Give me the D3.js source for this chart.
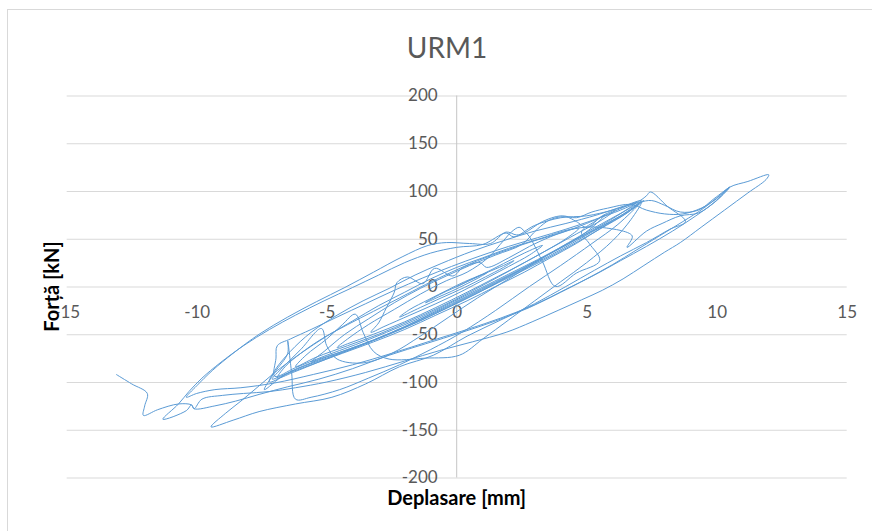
<!DOCTYPE html>
<html>
<head>
<meta charset="utf-8">
<script src="https://cdn.jsdelivr.net/npm/d3@7"></script>
<style>
  html, body { margin: 0; padding: 0; background: #fff; }
  svg { display: block; }
</style>
</head>
<body>
<div id="chart"></div>
<script>
// [displacement mm, force kN], one array per loading cycle
const cycle01 = [[0,0],[0.4,5],[0.8,10],[1.2,15],[0.9,10],[0.4,3],[-0.2,-5],[-0.7,-11],[-1.2,-17],[-0.9,-12],[-0.4,-5],[0.1,1]];
const cycle02 = [[0.6,8],[1.2,15],[1.8,22],[2.2,27],[1.8,20],[1.1,10],[0.3,-1],[-0.6,-12],[-1.4,-22],[-2.2,-32],[-1.8,-24],[-1.1,-14],[-0.3,-3],[0.3,5]];
const cycle03 = [[1,13],[1.8,24],[2.6,35],[3.3,43],[2.8,33],[2,21],[1.1,8],[0.2,-5],[-0.8,-18],[-1.8,-30],[-2.8,-42],[-3.3,-48],[-3,-38],[-2.7,-22],[-2.4,-6],[-2.3,4],[-1.9,10],[-1.3,3],[-0.85,19],[-0.15,11],[0.25,20],[0.9,25],[1.15,20]];
const cycle04 = [[2,30],[2.8,42],[3.6,52],[4.2,58],[4.7,61],[4.2,50],[3.4,37],[2.4,22],[1.4,8],[0.4,-6],[-0.8,-22],[-2,-37],[-3.2,-50],[-4.2,-60],[-4.6,-64],[-4.2,-55],[-3.4,-40],[-2.4,-24],[-1.4,-8],[-0.4,6],[0.4,15]];
const cycle05 = [[1.2,30],[1.8,48],[2.1,57],[2.4,62],[2.6,58],[2.8,52],[3.3,26],[3.8,0],[4.6,14],[5.5,27],[5.1,45],[4.8,57],[5.3,68],[5.7,75],[5.3,64],[4.5,48],[3.5,33],[2.5,18],[1.5,4],[0.4,-11],[-0.8,-27],[-2,-42],[-3.2,-56],[-4.4,-68],[-5.3,-76],[-5.6,-79],[-5.1,-68],[-4.3,-50],[-3.4,-34],[-2.4,-17],[-1.4,-2],[-0.4,11],[0.5,22]];
const cycle06 = [[1.5,33],[2.5,44],[3.1,60],[3.6,70],[4.2,73],[4.6,68],[5,62],[5.6,74],[6.1,80],[5.6,70],[4.6,55],[3.6,40],[2.6,25],[1.6,10],[0.5,-6],[-0.6,-21],[-1.8,-36],[-3,-50],[-4.2,-62],[-5.4,-74],[-6.2,-84],[-5.8,-72],[-5,-55],[-4.4,-40],[-3.9,-29],[-3.6,-48],[-3.2,-68],[-2.6,-76],[-1.2,-75],[0.1,-72],[1,-55],[2,-35],[3,-15],[4,5],[5,25],[6,48],[6.7,70],[7.1,88]];
const cycle07 = [[6.6,78],[5.6,62],[4.6,45],[3.6,30],[2.6,15],[1.5,0],[0.4,-15],[-0.8,-30],[-2,-45],[-3.2,-58],[-4.4,-70],[-5.6,-82],[-6.6,-92],[-7.1,-97],[-6.7,-85],[-6,-66],[-5.2,-44],[-5,-62],[-4.6,-76],[-3.6,-80],[-2.5,-70],[-1.4,-52],[-0.3,-32],[0.8,-12],[2,8],[3.2,28],[4.3,46],[5.4,63],[6.4,78],[7.2,90]];
const cycle08 = [[6.8,82],[5.9,68],[4.8,52],[3.7,36],[2.6,20],[1.5,5],[0.4,-10],[-0.8,-26],[-2,-42],[-3.2,-56],[-4.4,-68],[-5.6,-80],[-6.6,-92],[-7.4,-108],[-7,-90],[-6.5,-70],[-6.5,-57],[-6.35,-90],[-6.2,-118],[-5.6,-116],[-4.5,-108],[-3.4,-96],[-2.2,-82],[-1,-66],[0.2,-48],[1.5,-25],[2.8,0],[4,22],[5.2,45],[6.2,65],[7,86]];
const cycle09 = [[6.5,76],[5.5,60],[4.4,43],[3.3,27],[2.2,12],[1,-4],[-0.2,-20],[-1.4,-36],[-2.6,-50],[-3.8,-63],[-5,-75],[-6.2,-87],[-7.2,-100],[-7,-88],[-6.4,-68],[-5.6,-48],[-4.6,-30],[-3.6,-15],[-2.6,-2],[-1.6,12],[-0.6,24],[0.6,37],[1.8,48],[3,58],[4.2,66],[5.4,75],[6.4,84],[7.1,90]];
const cycle10 = [[6.3,74],[5.2,57],[4.1,40],[3,24],[1.9,9],[0.8,-7],[-0.4,-23],[-1.6,-38],[-2.8,-52],[-4,-65],[-5.2,-78],[-6.3,-90],[-6.9,-96],[-6.6,-84],[-6,-70],[-5.2,-55],[-4.2,-40],[-3.2,-26],[-2.2,-12],[-1.2,2],[-0.2,15],[0.8,27],[1.9,38],[3,48],[4,56],[5,66],[6,78],[6.9,88]];
const cycle11 = [[6.4,78],[5.3,60],[4.2,44],[3.1,28],[2,13],[0.9,-2],[-0.3,-18],[-1.5,-34],[-2.7,-48],[-3.9,-61],[-5.1,-73],[-6.2,-85],[-7,-94],[-6.95,-75],[-6.9,-62],[-6.4,-55],[-5.6,-45],[-4.6,-32],[-3.5,-18],[-2.4,-4],[-1.3,9],[-0.2,21],[0.9,32],[2,42],[3.1,51],[4.2,60],[5.3,70],[6.3,80],[7,89]];
const cycle12 = [[7.3,95],[7.45,99],[8.1,84],[8.8,68],[8.2,60],[7.3,46],[6.3,32],[5.3,17],[4.2,0],[3,-18],[1.7,-35],[0.4,-52],[-0.9,-72],[-2.2,-84],[-3.5,-102],[-4.8,-116],[-6.2,-123],[-7.6,-131],[-8.6,-140],[-9.45,-147],[-8.9,-133],[-8.3,-120],[-7.6,-104],[-6.9,-88],[-6,-70],[-5,-52],[-4,-36],[-3,-20],[-2,-6],[-1,8],[0,20],[1,30],[2,40],[3.2,50],[4.4,60],[5.5,62],[6.75,53],[6.55,41],[7.3,58],[7.9,66],[8.6,74],[9.3,77],[9.9,88],[10.5,104]];
const cycle13 = [[10.1,95],[9.5,82],[8.7,68],[7.8,53],[6.9,38],[6,23],[5,8],[4,-6],[2.8,-22],[1.5,-36],[0.2,-48],[-1.2,-60],[-2.6,-72],[-4,-86],[-5.3,-97],[-6.5,-105],[-7.6,-113],[-8.5,-120],[-9.3,-125],[-10.1,-128],[-10.2,-124],[-10.4,-130],[-11.3,-139],[-10.7,-123],[-10.3,-110],[-9.8,-96],[-9.1,-80],[-8.2,-62],[-7.2,-45],[-6.2,-30],[-5.1,-15],[-4,-1],[-3,12],[-2,25],[-1,35],[0,41],[1,44],[1.9,56],[2.2,52],[3,64],[4,72],[5,74],[6,80],[7,88],[7.5,90],[8,85],[8.6,78],[9.3,80],[9.9,92],[10.5,104]];
const cycle14 = [[10,90],[9.2,74],[8.3,58],[7.3,42],[6.3,27],[5.3,12],[4.2,-3],[3,-19],[1.7,-33],[0.4,-45],[-1,-57],[-2.5,-70],[-4,-82],[-5.5,-92],[-7,-101],[-8.3,-106],[-9.3,-108],[-10,-112],[-10.4,-116],[-10,-104],[-9.4,-88],[-8.6,-70],[-7.6,-50],[-6.5,-32],[-5.4,-16],[-4.3,-1],[-3.2,15],[-2.1,31],[-1.1,43],[-0.4,46],[0.5,45],[1.3,45],[1.9,57],[2.3,54],[2.6,56],[3.3,68],[4,74],[4.6,72],[5.2,78],[5.8,82],[6.7,86],[7.3,80],[8,76],[8.7,76],[9.4,82],[10,92],[10.5,104],[11.2,110],[12,117]];
const cycle15 = [[11.9,112],[11.2,98],[10.3,80],[9.4,62],[8.6,46],[8,36],[7.2,22],[6.4,8],[5.6,-4],[4.8,-14],[3.9,-25],[2.9,-37],[1.9,-48],[0.6,-58],[-0.65,-67],[-2,-78],[-3.5,-90],[-5,-100],[-6.2,-106],[-7.2,-110],[-8.2,-112],[-9,-114],[-9.8,-118],[-10.1,-128],[-10.2,-124],[-10.7,-123],[-11.5,-129],[-12.05,-135],[-12,-125],[-11.9,-112],[-12.5,-102],[-13.1,-92]];

const xTicks = [-15, -10, -5, 0, 5, 10, 15];
const yTicks = [-200, -150, -100, -50, 0, 50, 100, 150, 200];
const chartTitle = "URM1";
const xTitle = "Deplasare [mm]";
const yTitle = "Forță [kN]";

const width = 872, height = 531;
const font = "Lato, 'Open Sans', sans-serif";

const cycles = [cycle01, cycle02, cycle03, cycle04, cycle05, cycle06, cycle07, cycle08,
                cycle09, cycle10, cycle11, cycle12, cycle13, cycle14, cycle15];
const points = cycles.flat();

const x = d3.scaleLinear().domain([-15, 15]).range([66.7, 846.7]);
const y = d3.scaleLinear().domain([-200, 200]).range([477.5, 95.5]);

// Excel writes a plain hyphen for negatives
const plain = d => String(d);

const svg = d3.select("#chart").append("svg")
    .attr("width", width)
    .attr("height", height)
    .style("font-family", font);

// chart frame (runs off the right and bottom like the screenshot)
svg.append("rect")
    .attr("x", 7.5).attr("y", 9.5)
    .attr("width", 900).attr("height", 600)
    .attr("fill", "#fff")
    .attr("stroke", "#d9d9d9");

// horizontal gridlines
svg.append("g")
    .attr("transform", `translate(${x(-15)},0)`)
    .call(d3.axisLeft(y).tickValues(yTicks).tickSize(-(x(15) - x(-15))).tickFormat(""))
    .call(g => g.select(".domain").remove())
    .call(g => g.selectAll("line").attr("stroke", "#d9d9d9").attr("stroke-width", 1));

// vertical axis line through x = 0
svg.append("line")
    .attr("x1", x(0)).attr("x2", x(0))
    .attr("y1", y(200)).attr("y2", y(-200))
    .attr("stroke", "#c6c6c6");

// y tick labels sit left of the zero axis
svg.append("g")
    .attr("transform", `translate(${x(0)},0)`)
    .call(d3.axisLeft(y).tickValues(yTicks).tickFormat(plain).tickSize(0).tickPadding(19))
    .call(g => g.select(".domain").remove())
    .call(g => g.selectAll("text")
        .attr("fill", "#595959")
        .style("font-size", "17px")
        .style("font-family", font));

// x tick labels hang below the zero line
svg.append("g")
    .attr("transform", `translate(0,${y(0)})`)
    .call(d3.axisBottom(x).tickValues(xTicks).tickFormat(plain).tickSize(0).tickPadding(19))
    .call(g => g.select(".domain").remove())
    .call(g => g.selectAll("text")
        .attr("fill", "#595959")
        .style("font-size", "17px")
        .style("font-family", font));

// hysteresis curve
const line = d3.line()
    .x(d => x(d[0]))
    .y(d => y(d[1]))
    .curve(d3.curveCatmullRom.alpha(0.5));

svg.append("path")
    .datum(points)
    .attr("d", line)
    .attr("fill", "none")
    .attr("stroke", "#5b9bd5")
    .attr("stroke-width", 1)
    .attr("stroke-linejoin", "round");

// titles
svg.append("text")
    .attr("x", 447).attr("y", 58)
    .attr("text-anchor", "middle")
    .attr("fill", "#595959")
    .style("font-size", "28px")
    .text(chartTitle);

svg.append("text")
    .attr("x", x(0)).attr("y", 505)
    .attr("text-anchor", "middle")
    .attr("fill", "#000")
    .style("font-size", "20px")
    .style("font-weight", "bold")
    .text(xTitle);

svg.append("text")
    .attr("transform", `translate(59,${y(0)}) rotate(-90)`)
    .attr("text-anchor", "middle")
    .attr("fill", "#000")
    .style("font-size", "20px")
    .style("font-weight", "bold")
    .text(yTitle);
</script>
</body>
</html>
